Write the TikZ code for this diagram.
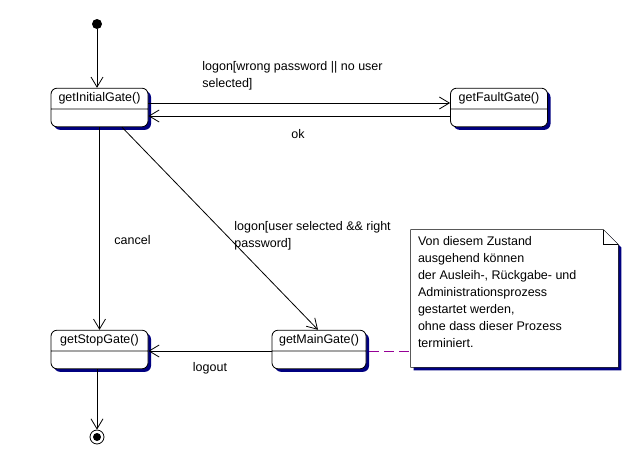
\documentclass[tikz,border=0pt]{standalone}
\usepackage{fontspec}
\setmainfont{Liberation Sans}
\usetikzlibrary{arrows.meta,shapes.multipart,shadows,backgrounds}
\definecolor{shadowblue}{RGB}{0,0,128}
\definecolor{linkpurple}{RGB}{150,0,150}

\begin{document}
\begin{tikzpicture}[x=1pt,y=-1pt,line width=0.8pt,>={Straight Barb[length=10pt,width=12pt]},
  font=\fontsize{12.5}{17}\selectfont,
  gate/.style={rectangle split,rectangle split parts=2,rectangle split ignore empty parts=false,
    rectangle split empty part height=8pt,draw,fill=white,rounded corners=6pt,
    minimum width=97pt,inner ysep=4.5pt,text height=8pt,text depth=3pt,
    drop shadow={fill=shadowblue,opacity=1,shadow xshift=3pt,shadow yshift=-3pt}},
  lbl/.style={inner sep=0pt,align=left},
  notebox/.style={minimum width=207pt,minimum height=137pt,inner sep=0pt}]
  \useasboundingbox (0,0) rectangle (630,456);

  % states
  \node[circle,fill=black,minimum size=10pt,inner sep=0pt] (start) at (97,24) {};
  \node[gate] (initGate) at (99.5,107.5) {getInitialGate()\nodepart{two}};
  \node[gate] (faultGate) at (499,107.5) {getFaultGate()\nodepart{two}};
  \node[gate] (stopGate) at (99.5,349.5) {getStopGate()\nodepart{two}};
  \node[gate,minimum width=94pt] (mainGate) at (319,349.5) {getMainGate()\nodepart{two}};
  \node[circle,draw,minimum size=14pt,inner sep=0pt] (end) at (97,437) {};
  \fill (end.center) circle (4pt);

  % transitions
  \draw[->] (start) -- (start |- initGate.north);
  \draw[->] ([yshift=4.5pt]initGate.east) -- ([yshift=4.5pt]faultGate.west);
  \draw[->] ([yshift=-8.5pt]faultGate.west) -- ([yshift=-8.5pt]initGate.east);
  \draw[->] (initGate.south) -- (stopGate.north);
  \draw[->] ([xshift=22.5pt]initGate.south) -- ([xshift=-1pt]mainGate.north);
  \draw[->] ([yshift=-1.5pt]mainGate.west) -- ([yshift=-1.5pt]stopGate.east);
  \draw[->] (end |- stopGate.south) -- (end);

  \node[lbl,anchor=north west] (lblWrong) at (202,61) {logon[wrong password || no user\\selected]};
  \node[lbl] (lblOk) at (298,134) {ok};
  \node[lbl,anchor=west] (lblCancel) at (114,240) {cancel};
  \node[lbl,anchor=north west] (lblRight) at (234,221) {logon[user selected \&\& right\\password]};
  \node[lbl] (lblLogout) at (210,368) {logout};

  % note
  \node[notebox] (note) at (514.5,298.5) {};
  \begin{scope}[on background layer]
    \draw[fill=white,drop shadow={fill=shadowblue,opacity=1,shadow xshift=3pt,shadow yshift=-3pt}]
      (note.north west) -- ([xshift=-15pt]note.north east) -- ([yshift=-15pt]note.north east)
      -- (note.south east) -- (note.south west) -- cycle;
  \end{scope}
  \draw ([xshift=-15pt]note.north east) |- ([yshift=-15pt]note.north east);
  \node[lbl,anchor=north west] (noteText) at ([xshift=7pt,yshift=-6pt]note.north west) {Von diesem Zustand\\ausgehend können\\der Ausleih-, Rückgabe- und\\Administrationsprozess\\gestartet werden,\\ohne dass dieser Prozess\\terminiert.};
  \coordinate (link) at ([xshift=3pt,yshift=-1.5pt]mainGate.east);
  \draw[linkpurple,line width=1pt,dash pattern=on 10pt off 5pt] (link) -- (link -| note.west);
\end{tikzpicture}
\end{document}
